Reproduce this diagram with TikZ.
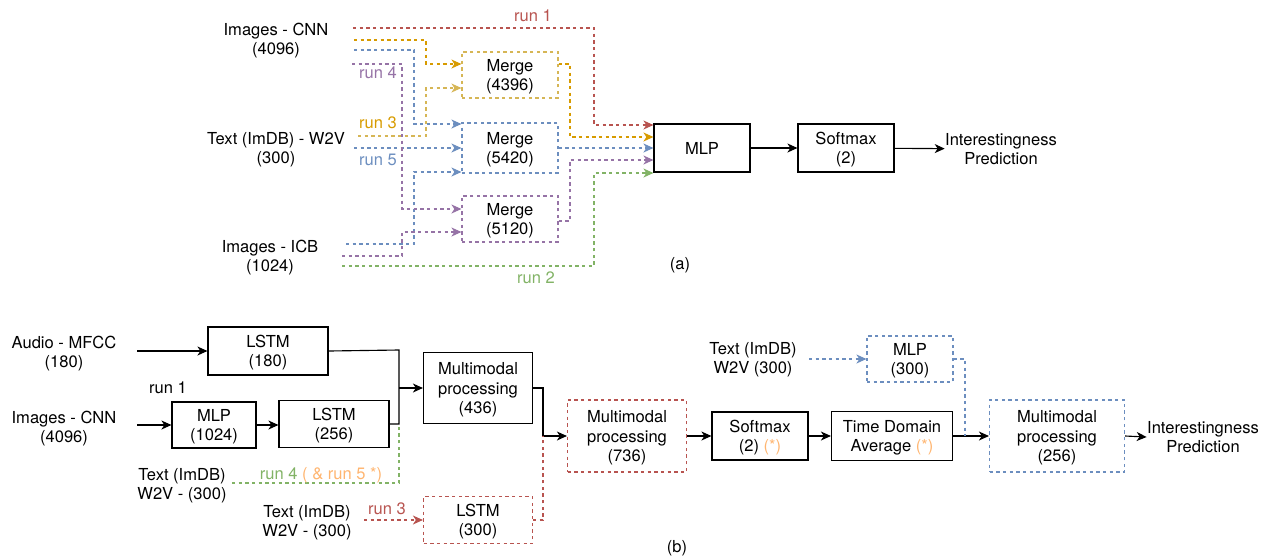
\documentclass[tikz,border=0pt]{standalone}
\usepackage{fontspec}
\setmainfont{TeX Gyre Heros}
\usetikzlibrary{arrows.meta}

\definecolor{runred}{RGB}{184,84,80}
\definecolor{runorange}{RGB}{215,155,0}
\definecolor{runyellow}{RGB}{214,182,86}
\definecolor{runblue}{RGB}{108,142,191}
\definecolor{runpurple}{RGB}{150,115,166}
\definecolor{rungreen}{RGB}{130,179,102}
\definecolor{starorange}{RGB}{255,181,112}

\tikzset{every picture/.style={line width=0.75pt}}

\begin{document}
\begin{tikzpicture}[x=0.75pt,y=0.75pt,yscale=-1,xscale=1,
  font=\fontsize{12.4}{14.3}\selectfont,
  sized/.style 2 args={minimum width=#1*0.75pt,minimum height=#2*0.75pt},
  blk/.style={draw=black,line width=0.85pt,inner sep=0pt,align=center,text depth=0pt},
  dbox/.style={draw=#1,line width=0.85pt,dash pattern=on 2.5pt off 2.5pt,inner sep=0pt,align=center,text depth=0pt},
  txt/.style={inner sep=0pt,align=center,text depth=0pt},
  dline/.style={draw=#1,line width=0.85pt,dash pattern=on 2.5pt off 2.5pt},
  sline/.style={draw=black,line width=0.85pt},
  arrowhead/.style={-{Stealth[length=7.5pt,width=6.75pt,inset=2.2pt]}},
]
\useasboundingbox (0,0) rectangle (1268,558);

%%%%%%%%%%%%%%%%%%%% (a) %%%%%%%%%%%%%%%%%%%%
% Text Node
\node[txt] (cnnA) at (276,39) {Images - CNN\\(4096)};
% Text Node
\node[txt] (txtA) at (276,148) {Text (ImDB) - W2V\\(300)};
% Text Node
\node[txt] (icbA) at (270,256) {Images - ICB\\(1024)};

%Shape: Rectangle
\node[dbox=runyellow, sized={96}{46}] (merge1) at (510,75) {Merge\\(4396)};
%Shape: Rectangle
\node[dbox=runblue, sized={96}{50}] (merge2) at (510,148) {Merge\\(5420)};
%Shape: Rectangle
\node[dbox=runpurple, sized={96}{46}] (merge3) at (510,219) {Merge\\(5120)};
%Shape: Rectangle
\node[blk, sized={96}{48}] (mlpA) at (702,148) {MLP};
%Shape: Rectangle
\node[blk, sized={96}{48}] (softA) at (846,148) {Softmax\\(2)};
% Text Node
\node[txt] (predA) at (1001,149) {Interestingness\\Prediction};

% line starts
\coordinate (cR) at (353,28);
\coordinate (cY) at (354,40);
\coordinate (cB) at (354,50);
\coordinate (cP) at (352,64);
\coordinate (tY) at (358,136);
\coordinate (tB) at (354,148);
\coordinate (iB) at (346,244);
\coordinate (iP) at (342,256);
\coordinate (iG) at (342,266);
% channels
\coordinate (chR) at (594,0);
\coordinate (chY) at (426,0);
\coordinate (chB) at (414,0);
\coordinate (chP) at (402,0);
\coordinate (chO) at (570,0);
% ports (yshift follows yscale=-1: negative is up)
\coordinate (m1InA) at ([yshift=-8.25pt]merge1.west);
\coordinate (m1InB) at ([yshift=9.75pt]merge1.west);
\coordinate (m2InA) at ([yshift=-18pt]merge2.west);
\coordinate (m2InC) at ([yshift=18pt]merge2.west);
\coordinate (m3InA) at ([yshift=-7.5pt]merge3.west);
\coordinate (m3InB) at ([yshift=9.75pt]merge3.west);
\coordinate (m1Out) at ([yshift=-8.25pt]merge1.east);
\coordinate (m3Out) at ([yshift=1.5pt]merge3.east);
\coordinate (mInR) at ([yshift=-17.25pt]mlpA.west);
\coordinate (mInY) at ([yshift=-8.25pt]mlpA.west);
\coordinate (mInB) at (mlpA.west);
\coordinate (mInP) at ([yshift=9pt]mlpA.west);
\coordinate (mInG) at ([yshift=18.75pt]mlpA.west);

%Straight Lines
\draw[dline=runred, arrowhead] (cR) -| (chR |- mInR) -- (mInR);
\draw[dline=runorange, arrowhead] (cY) -| (chY |- m1InA) -- (m1InA);
\draw[dline=runyellow, arrowhead] (tY) -| (chY |- m1InB) -- (m1InB);
\draw[dline=runblue, arrowhead] (cB) -| (chB |- m2InA) -- (m2InA);
\draw[dline=runblue, arrowhead] (tB) -- (merge2.west);
\draw[dline=runblue, arrowhead] (iB) -| (chB |- m2InC) -- (m2InC);
\draw[dline=runpurple, arrowhead] (cP) -| (chP |- m3InA) -- (m3InA);
\draw[dline=runpurple, arrowhead] (iP) -| (chP |- m3InB) -- (m3InB);
\draw[dline=rungreen, arrowhead] (iG) -| (chR |- mInG) -- (mInG);
\draw[dline=runorange, arrowhead] (m1Out) -| (chO |- mInY) -- (mInY);
\draw[dline=runblue, arrowhead] (merge2.east) -- (mInB);
\draw[dline=runpurple, arrowhead] (m3Out) -| (chO |- mInP) -- (mInP);
\draw[sline, arrowhead] (mlpA) -- (softA);
\draw[sline, arrowhead] (softA) -- (predA);

% Text Node
\node[txt, runred] (run1A) at (533,16) {run 1};
% Text Node
\node[txt, runpurple] (run4A) at (378,73) {run 4};
% Text Node
\node[txt, runorange] (run3A) at (378,123) {run 3};
% Text Node
\node[txt, runblue] (run5A) at (378,160) {run 5};
% Text Node
\node[txt, rungreen] (run2A) at (536,278) {run 2};
% Text Node
\node[txt] (capA) at (680,263) {(a)};

%%%%%%%%%%%%%%%%%%%% (b) %%%%%%%%%%%%%%%%%%%%
% Text Node
\node[txt] (audioB) at (64,352) {Audio - MFCC\\(180)};
% Text Node
\node[txt] (cnnB) at (64,427) {Images - CNN\\(4096)};
% Text Node
\node[txt] (txtB1) at (182,484) {Text (ImDB)\\W2V - (300)};
% Text Node
\node[txt] (txtB2) at (307,521) {Text (ImDB)\\W2V - (300)};
% Text Node
\node[txt] (txtB3) at (753,358) {Text (ImDB)\\W2V (300)};

%Shape: Rectangle
\node[blk, sized={120}{48}] (lstmAudio) at (268,351) {LSTM\\(180)};
%Shape: Rectangle
\node[blk, sized={84}{46}] (mlpImg) at (214,425) {MLP\\(1024)};
%Shape: Rectangle
\node[blk, sized={110}{47}] (lstmImg) at (334,424) {LSTM\\(256)};
%Shape: Rectangle
\node[blk, sized={109}{71}] (mmA) at (478,388) {Multimodal\\processing\\(436)};
%Shape: Rectangle
\node[dbox=runred, sized={109}{47}] (lstmText) at (478,520) {LSTM\\(300)};
%Shape: Rectangle
\node[dbox=runred, sized={119}{72}] (mmB) at (627,436) {Multimodal\\processing\\(736)};
%Shape: Rectangle
\node[blk, sized={96}{48}] (softB) at (760,436) {Softmax\\(2) \textcolor{starorange}{(*)}};
%Shape: Rectangle
\node[blk, sized={121}{49}] (tda) at (892,436) {Time Domain\\Average \textcolor{starorange}{(*)}};
%Shape: Rectangle
\node[dbox=runblue, sized={86}{46}] (mlpText) at (910,359) {MLP\\(300)};
%Shape: Rectangle
\node[dbox=runblue, sized={135}{72}] (mmC) at (1057,436) {Multimodal\\processing\\(256)};
% Text Node
\node[txt] (predB) at (1203,437) {Interestingness\\Prediction};

% line starts and joints
\coordinate (aS) at (137,351);
\coordinate (cS) at (137,425);
\coordinate (gS) at (232,483);
\coordinate (rS) at (364,520);
\coordinate (bS) at (809,359);
\coordinate (jnTop) at (399,350);
\coordinate (jnBot) at (399,424);
\coordinate (jn2) at (543,436);
\coordinate (jn3) at (965,436);

%Straight Lines
\draw[sline, arrowhead] (aS) -- (lstmAudio.west);
\draw[sline, arrowhead] (cS) -- (mlpImg.west);
\draw[sline, arrowhead] (mlpImg.east) -- (lstmImg.west |- mlpImg.east);
\draw[sline] (lstmAudio.east) -- (jnTop) -- (jnBot) -- (lstmImg.east);
\draw[sline, arrowhead] (jnTop |- mmA.west) -- (mmA.west);
\draw[dline=rungreen] (gS) -| (jnBot);
\draw[sline, arrowhead] (mmA.east) -| (jn2) -- (mmB.west);
\draw[dline=runred] (lstmText.east) -| (jn2);
\draw[dline=runred, arrowhead] (rS) -- (lstmText.west);
\draw[sline, arrowhead] (mmB.east) -- (softB.west);
\draw[sline, arrowhead] (softB.east) -- (tda.west);
\draw[sline, arrowhead] (tda.east) -- (mmC.west);
\draw[dline=runblue, arrowhead] (bS) -- (mlpText.west);
\draw[dline=runblue] (mlpText.east) -| (jn3);
\draw[sline, arrowhead] (mmC.east) -- (predB.west);

% Text Node
\node[txt] (run1B) at (168,388) {run 1};
% Text Node
\node[txt, rungreen] (run4B) at (321,473) {run 4 \textcolor{starorange}{( \& run 5 *)}};
% Text Node
\node[txt, runred] (run3B) at (387,509) {run 3};
% Text Node
\node[txt] (capB) at (677,546) {(b)};

\end{tikzpicture}
\end{document}
